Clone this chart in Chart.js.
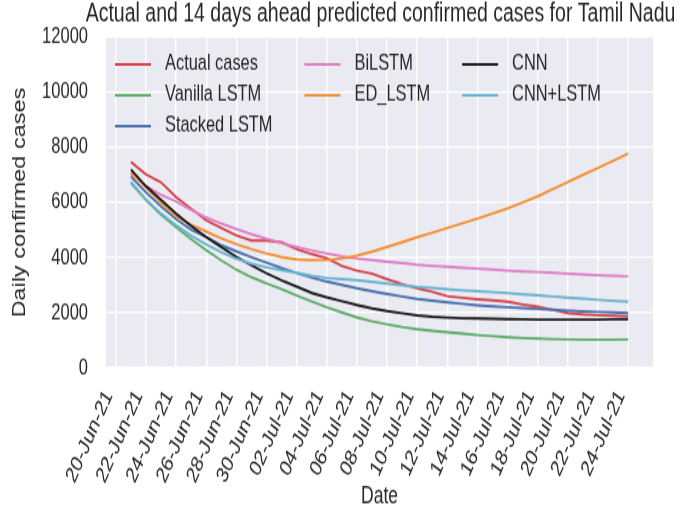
<!DOCTYPE html>
<html>
<head>
<meta charset="utf-8">
<script src="https://cdn.jsdelivr.net/npm/chart.js@4.4.1/dist/chart.umd.min.js"></script>
<style>
  html, body { margin: 0; padding: 0; background: #fff; }
  #chart { display: block; }
</style>
</head>
<body>
<!-- the reference picture is stretched vertically, so the bitmap is drawn shorter and scaled up -->
<canvas id="chart" width="692" height="380" style="width:692px;height:510px"></canvas>
<script>
const chartTitle = "Actual and 14 days ahead predicted confirmed cases for Tamil Nadu";
const dates = [
  "21-Jun-21", "22-Jun-21", "23-Jun-21", "24-Jun-21", "25-Jun-21", "26-Jun-21",
  "27-Jun-21", "28-Jun-21", "29-Jun-21", "30-Jun-21", "01-Jul-21", "02-Jul-21",
  "03-Jul-21", "04-Jul-21", "05-Jul-21", "06-Jul-21", "07-Jul-21", "08-Jul-21",
  "09-Jul-21", "10-Jul-21", "11-Jul-21", "12-Jul-21", "13-Jul-21", "14-Jul-21",
  "15-Jul-21", "16-Jul-21", "17-Jul-21", "18-Jul-21", "19-Jul-21", "20-Jul-21",
  "21-Jul-21", "22-Jul-21", "23-Jul-21", "24-Jul-21"
];
const tickLabels = [
  "20-Jun-21", "22-Jun-21", "24-Jun-21", "26-Jun-21", "28-Jun-21", "30-Jun-21",
  "02-Jul-21", "04-Jul-21", "06-Jul-21", "08-Jul-21", "10-Jul-21", "12-Jul-21",
  "14-Jul-21", "16-Jul-21", "18-Jul-21", "20-Jul-21", "22-Jul-21", "24-Jul-21"
];
const yTicks = [0, 2000, 4000, 6000, 8000, 10000, 12000];

const actualCases = [7480, 7030, 6740, 6200, 5780, 5360, 5080, 4810, 4620, 4620, 4560, 4310,
  4130, 3980, 3700, 3530, 3420, 3220, 3040, 2880, 2760, 2600, 2540, 2490,
  2450, 2400, 2300, 2220, 2100, 1990, 1940, 1910, 1890, 1870];
const vanillaLstm = [6720, 6100, 5560, 5110, 4670, 4270, 3900, 3560, 3290, 3070, 2860, 2630,
  2410, 2200, 2010, 1830, 1690, 1580, 1480, 1400, 1340, 1290, 1240, 1190,
  1150, 1110, 1080, 1060, 1040, 1030, 1020, 1020, 1020, 1030];
const stackedLstm = [6950, 6380, 5860, 5400, 5020, 4750, 4450, 4230, 4020, 3820, 3620, 3440,
  3270, 3130, 3010, 2890, 2780, 2680, 2590, 2500, 2440, 2380, 2320, 2270,
  2230, 2200, 2170, 2140, 2110, 2080, 2050, 2030, 2010, 1990];
const biLstm = [7050, 6600, 6280, 6040, 5740, 5460, 5240, 5040, 4850, 4690, 4530, 4390,
  4260, 4150, 4050, 3970, 3910, 3850, 3800, 3740, 3700, 3670, 3630, 3600,
  3570, 3530, 3500, 3480, 3450, 3420, 3390, 3360, 3340, 3320];
const edLstm = [7100, 6550, 6000, 5500, 5200, 4950, 4700, 4490, 4310, 4150, 4020, 3940,
  3910, 3920, 3970, 4070, 4220, 4390, 4560, 4740, 4910, 5080, 5250, 5420,
  5600, 5790, 6000, 6230, 6490, 6750, 7010, 7260, 7520, 7780];
const cnn = [7200, 6600, 6100, 5600, 5150, 4750, 4380, 4030, 3720, 3430, 3180, 2950,
  2720, 2560, 2420, 2280, 2160, 2060, 1980, 1900, 1850, 1820, 1800, 1790,
  1780, 1770, 1760, 1750, 1750, 1750, 1750, 1750, 1760, 1770];
const cnnLstm = [6750, 6120, 5600, 5180, 4800, 4480, 4200, 3960, 3780, 3650, 3540, 3450,
  3340, 3260, 3220, 3180, 3120, 3060, 3000, 2940, 2900, 2850, 2810, 2780,
  2750, 2710, 2670, 2630, 2590, 2550, 2510, 2470, 2430, 2400];

const months = { Jun: 5, Jul: 6 };
function dayIndex(label) {
  const [d, m, y] = label.split("-");
  const t = Date.UTC(2000 + Number(y), months[m], Number(d));
  return (t - Date.UTC(2021, 5, 20)) / 86400000;
}

const series = [
  { label: "Actual cases", values: actualCases, color: "#d6454d" },
  { label: "Vanilla LSTM", values: vanillaLstm, color: "#5fad6a" },
  { label: "Stacked LSTM", values: stackedLstm, color: "#4c72b0" },
  { label: "BiLSTM", values: biLstm, color: "#e07fc8" },
  { label: "ED_LSTM", values: edLstm, color: "#f39134" },
  { label: "CNN", values: cnn, color: "#1f1f1f" },
  { label: "CNN+LSTM", values: cnnLstm, color: "#6ab4d0" },
];

const textColor = "#262626";
const family = "'Liberation Sans', Arial, sans-serif";

// legend sits inside the plot, 3 columns filled top to bottom
const insideLegend = {
  id: "insideLegend",
  afterDatasetsDraw(chart) {
    const { ctx, chartArea } = chart;
    const cols = [[0, 1, 2], [3, 4], [5, 6]];
    ctx.save();
    ctx.font = "16.4px " + family;
    ctx.textBaseline = "middle";
    ctx.textAlign = "left";
    let x = chartArea.left + 9;
    cols.forEach(col => {
      let maxW = 0;
      col.forEach((i, r) => {
        const ds = chart.data.datasets[i];
        const y = chartArea.top + 20 + r * 23;
        ctx.strokeStyle = ds.borderColor;
        ctx.lineWidth = 2;
        ctx.beginPath();
        ctx.moveTo(x, y);
        ctx.lineTo(x + 36, y);
        ctx.stroke();
        ctx.fillStyle = textColor;
        ctx.fillText(ds.label, x + 50, y);
        maxW = Math.max(maxW, ctx.measureText(ds.label).width);
      });
      x += 50 + maxW + 32;
    });
    ctx.restore();
  }
};

// plot background, plus the title centred over the plot area (it is wider than the plot)
const plotBackground = {
  id: "plotBackground",
  beforeDraw(chart) {
    const { ctx, chartArea: a } = chart;
    ctx.save();
    ctx.fillStyle = "#eaeaf2";
    ctx.fillRect(a.left, a.top, a.right - a.left, a.bottom - a.top);
    ctx.fillStyle = textColor;
    ctx.font = "19.5px " + family;
    ctx.textAlign = "center";
    ctx.textBaseline = "middle";
    ctx.fillText(chartTitle, (a.left + a.right) / 2 + 1, 10.6);
    ctx.restore();
  }
};

const canvas = document.getElementById("chart");
new Chart(canvas, {
  type: "line",
  data: {
    datasets: series.map((s, i) => ({
      label: s.label,
      data: dates.map((d, k) => ({ x: dayIndex(d), y: s.values[k] })),
      borderColor: s.color,
      backgroundColor: s.color,
      borderWidth: 1.9,
      pointRadius: 0,
      tension: 0,
      fill: false,
      order: -i,
    })),
  },
  options: {
    responsive: false,
    animation: false,
    devicePixelRatio: 1,
    layout: { padding: { top: 26.1, left: 0, right: 39, bottom: 0 } },
    plugins: {
      legend: { display: false },
      tooltip: { enabled: false },
      title: { display: false },
    },
    scales: {
      x: {
        type: "linear",
        min: dayIndex(dates[0]) - 1.65,
        max: dayIndex(dates[dates.length - 1]) + 1.65,
        afterBuildTicks: (scale) => {
          scale.ticks = tickLabels.map(l => ({ value: dayIndex(l) }));
        },
        afterFit: (scale) => { scale.height = 106; },
        border: { display: false },
        grid: { color: "#ffffff", lineWidth: 1.4, drawTicks: false },
        ticks: {
          autoSkip: false,
          minRotation: 60,
          maxRotation: 60,
          padding: 13,
          labelOffset: -7,
          color: textColor,
          font: { family: family, size: 17 },
          callback: (v, i) => tickLabels[i],
        },
        title: {
          display: true,
          text: "Date",
          color: textColor,
          font: { family: family, size: 17.5, lineHeight: 1 },
          padding: { top: 0, bottom: 0.6 },
        },
      },
      y: {
        min: yTicks[0],
        max: yTicks[yTicks.length - 1],
        afterBuildTicks: (scale) => {
          scale.ticks = yTicks.map(v => ({ value: v }));
        },
        afterFit: (scale) => { scale.width = 106; },
        border: { display: false },
        grid: { color: "#ffffff", lineWidth: 1.2, drawTicks: false },
        ticks: {
          padding: 18,
          color: textColor,
          font: { family: family, size: 16.5 },
          callback: (v) => String(v),
        },
        title: {
          display: true,
          text: "Daily confirmed cases",
          color: textColor,
          font: { family: family, size: 17.5, lineHeight: 1.2 },
          padding: { top: 9.5, bottom: 0 },
        },
      },
    },
  },
  plugins: [plotBackground, insideLegend],
});
canvas.style.width = "692px";
canvas.style.height = "510px";
</script>
</body>
</html>
